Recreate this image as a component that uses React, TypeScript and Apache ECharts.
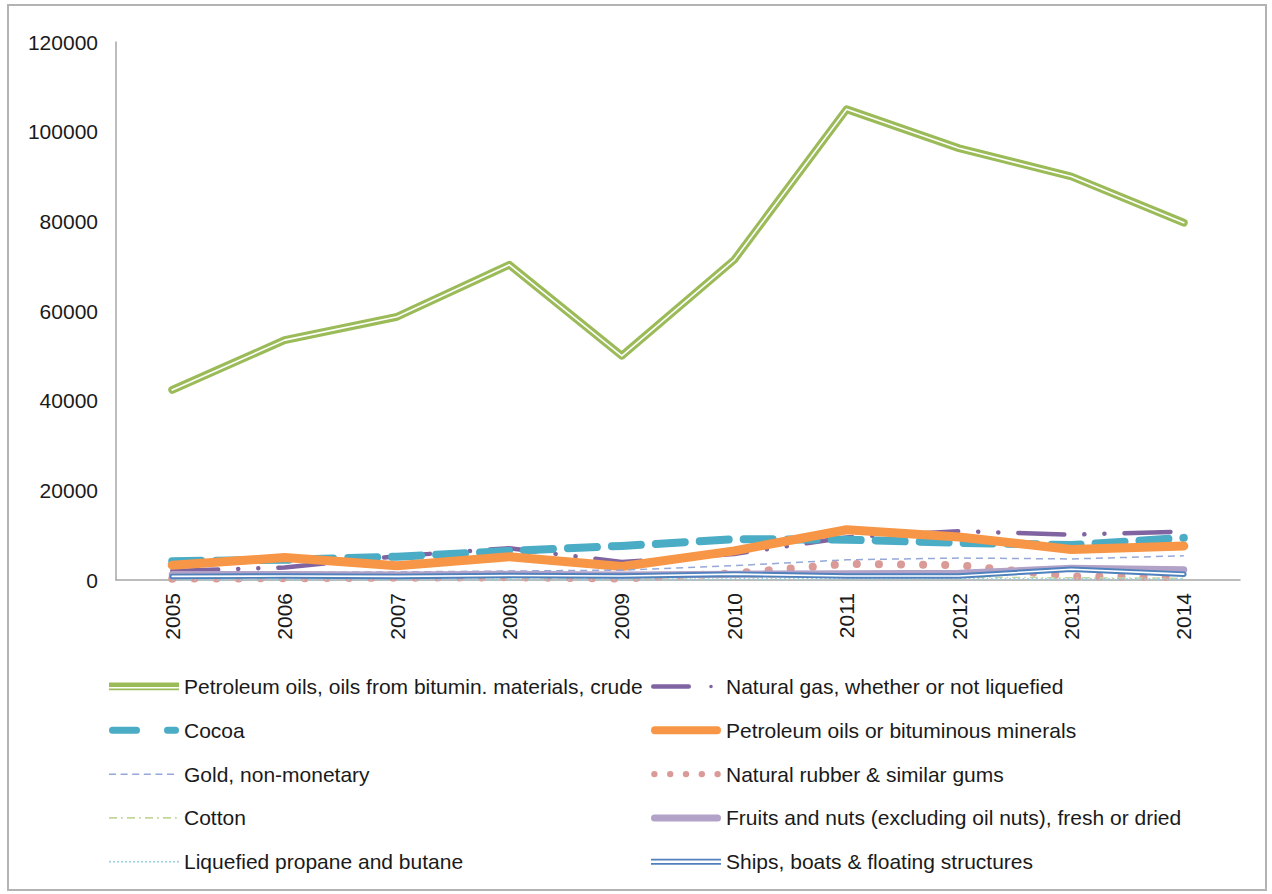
import React, { useEffect, useRef } from 'react';
import * as echarts from 'echarts';

// ---------- data ----------
const years = ['2005', '2006', '2007', '2008', '2009', '2010', '2011', '2012', '2013', '2014'];
const yMin = 0;
const yMax = 120000;
const yInterval = 20000;

const seriesNames = [
  'Petroleum oils, oils from bitumin. materials, crude',
  'Natural gas, whether or not liquefied',
  'Cocoa',
  'Petroleum oils or bituminous minerals',
  'Gold, non-monetary',
  'Natural rubber & similar gums',
  'Cotton',
  'Fruits and nuts (excluding oil nuts), fresh or dried',
  'Liquefied propane and butane',
  'Ships, boats & floating structures',
];

const crudeOil = [42400, 53500, 58700, 70300, 50000, 71400, 105000, 96300, 90000, 79700];
const naturalGas = [2000, 2800, 5300, 7100, 4000, 5800, 9500, 10900, 10100, 10800];
const cocoa = [4200, 4500, 5200, 6500, 7600, 9100, 9000, 8300, 7800, 9400];
const petroleumOils = [3300, 5000, 3200, 5200, 3000, 6500, 11200, 9600, 6800, 7600];
const gold = [1500, 1700, 1800, 2000, 2200, 3200, 4500, 4900, 4700, 5400];
const rubber = [300, 400, 500, 600, 300, 1500, 3600, 3300, 800, 700];
const cotton = [600, 500, 700, 500, 400, 600, 800, 600, 500, 400];
const fruitsNuts = [1200, 1200, 1100, 1300, 1100, 1300, 1400, 1500, 2600, 2300];
const propaneButane = [100, 100, 100, 100, 100, 200, 300, 300, 200, 200];
const ships = [800, 900, 800, 1000, 900, 1300, 900, 900, 2400, 1300];

// ---------- legend icon helpers (70 x 18 box) ----------
const IW = 70;
const IH = 18;
const BOX = `M0,0h0.01v0.01h-0.01Z M${IW - 0.01},${IH - 0.01}h0.01v0.01h-0.01Z`;
const rect = (x: number, y: number, w: number, h: number) => `M${x},${y}h${w}v${h}h${-w}Z`;
const dot = (cx: number, cy: number, r: number) =>
  `M${cx - r},${cy}a${r},${r} 0 1,1 ${2 * r},0a${r},${r} 0 1,1 ${-2 * r},0Z`;
const capsule = (x1: number, x2: number, t: number) => {
  const r = t / 2;
  const top = 9 - r;
  const bot = 9 + r;
  return `M${x1 + r},${top}H${x2 - r}A${r},${r} 0 0,1 ${x2 - r},${bot}H${x1 + r}A${r},${r} 0 0,1 ${x1 + r},${top}Z`;
};
const repeat = (period: number, fn: (x: number) => string, start = 0) => {
  const parts: string[] = [];
  for (let x = start; x < IW - 0.5; x += period) parts.push(fn(x));
  return parts.join(' ');
};
const icon = (d: string) => `path://${BOX} ${d}`;

const icons: Record<string, string> = {
  [seriesNames[0]]: icon(`${rect(0, 5, IW, 4.4)} ${rect(0, 11, IW, 1.7)}`),
  [seriesNames[1]]: icon(`${capsule(0, 40, 4.5)} ${dot(60, 9, 1.8)}`),
  [seriesNames[2]]: icon(`${capsule(0, 31, 7)} ${capsule(55, 70, 7)}`),
  [seriesNames[3]]: icon(capsule(0, 70, 8)),
  [seriesNames[4]]: icon(repeat(11.6, (x) => rect(x, 8.3, Math.min(7, IW - x), 1.5))),
  [seriesNames[5]]: icon(repeat(15.8, (x) => dot(x + 3.4, 9, 3.2))),
  [seriesNames[6]]: icon(
    repeat(18, (x) => `${rect(x, 8.2, Math.min(8, IW - x), 1.7)} ${x + 12 < IW ? rect(x + 12, 8.2, 1.8, 1.7) : ''}`)
  ),
  [seriesNames[7]]: icon(capsule(0, 70, 7)),
  [seriesNames[8]]: icon(repeat(4, (x) => dot(x + 1, 9, 1))),
  [seriesNames[9]]: icon(`${rect(0, 6, IW, 1.8)} ${rect(0, 10.2, IW, 1.8)}`),
};

const colors = {
  green: '#9BBB59',
  purple: '#8064A2',
  teal: '#4BACC6',
  orange: '#F79646',
  gold: '#95A8D8',
  rubber: '#DA9A97',
  cotton: '#C3D69B',
  fruits: '#B3A2C7',
  propane: '#93CDDD',
  ships: '#4F81BD',
};

const FONT = "'Liberation Sans', Arial, Helvetica, sans-serif";

function line(name: string, data: number[], color: string, width: number, type: any = 'solid', cap: any = 'round') {
  return {
    type: 'line',
    name,
    data,
    color,
    symbol: 'none',
    showSymbol: false,
    silent: true,
    lineStyle: { color, width, type, cap, join: 'round' },
    emphasis: { disabled: true },
  };
}

export default function App() {
  const ref = useRef<HTMLDivElement>(null);

  useEffect(() => {
    if (!ref.current) return;
    const chart = echarts.init(ref.current, undefined, { renderer: 'svg' });

    const legendBase = {
      orient: 'vertical',
      top: 671,
      itemWidth: IW,
      itemHeight: IH,
      itemGap: 22.8,
      symbolKeepAspect: false,
      selectedMode: false,
      itemStyle: { borderWidth: 0 },
      textStyle: { fontSize: 21, fontFamily: FONT, color: '#1a1a1a' },
    };

    const option: any = {
      animation: false,
      backgroundColor: '#ffffff',
      textStyle: { fontFamily: FONT },
      grid: { left: 116, right: 32, top: 42, bottom: 314, containLabel: false },
      xAxis: {
        type: 'category',
        data: years,
        boundaryGap: true,
        axisLine: { show: true, lineStyle: { color: '#a6a6a6', width: 1.5 } },
        axisTick: { show: false },
        axisLabel: { rotate: 90, margin: 13, fontSize: 21, fontFamily: FONT, color: '#1a1a1a' },
        splitLine: { show: false },
      },
      yAxis: {
        type: 'value',
        min: yMin,
        max: yMax,
        interval: yInterval,
        axisLine: { show: true, lineStyle: { color: '#a6a6a6', width: 1.5 } },
        axisTick: { show: false },
        splitLine: { show: false },
        axisLabel: {
          margin: 18,
          fontSize: 21,
          fontFamily: FONT,
          color: '#1a1a1a',
          formatter: (v: number) => String(v),
        },
      },
      legend: [
        {
          ...legendBase,
          left: 104,
          data: [0, 2, 4, 6, 8].map((i) => ({ name: seriesNames[i], icon: icons[seriesNames[i]] })),
        },
        {
          ...legendBase,
          left: 646,
          data: [1, 3, 5, 7, 9].map((i) => ({ name: seriesNames[i], icon: icons[seriesNames[i]] })),
        },
      ],
      graphic: [
        {
          type: 'rect',
          silent: true,
          shape: { x: 8, y: 5, width: 1258, height: 885 },
          style: { fill: 'none', stroke: '#b3b3b3', lineWidth: 2 },
        },
      ],
      series: [
        line(seriesNames[0], crudeOil, colors.green, 7.8),
        line('crude-inner', crudeOil, '#ffffff', 1.6),
        line(seriesNames[1], naturalGas, colors.purple, 4.5, [46, 20, 0.1, 20, 0.1, 20]),
        line(seriesNames[2], cocoa, colors.teal, 8, [29, 15]),
        line(seriesNames[3], petroleumOils, colors.orange, 9),
        line(seriesNames[4], gold, colors.gold, 1.5, [7, 5], 'butt'),
        line(seriesNames[5], rubber, colors.rubber, 8, [0.1, 22]),
        line(seriesNames[6], cotton, colors.cotton, 1.5, [8, 4, 1.5, 4], 'butt'),
        line(seriesNames[7], fruitsNuts, colors.fruits, 7),
        line(seriesNames[8], propaneButane, colors.propane, 2, [1.5, 3], 'butt'),
        line(seriesNames[9], ships, colors.ships, 5.5),
        line('ships-inner', ships, '#ffffff', 1.6),
      ],
    };

    chart.setOption(option);
    return () => chart.dispose();
  }, []);

  return (
    <div
      ref={ref}
      style={{ position: 'absolute', left: 0, top: 0, width: 1272, height: 894, background: '#ffffff' }}
    />
  );
}
